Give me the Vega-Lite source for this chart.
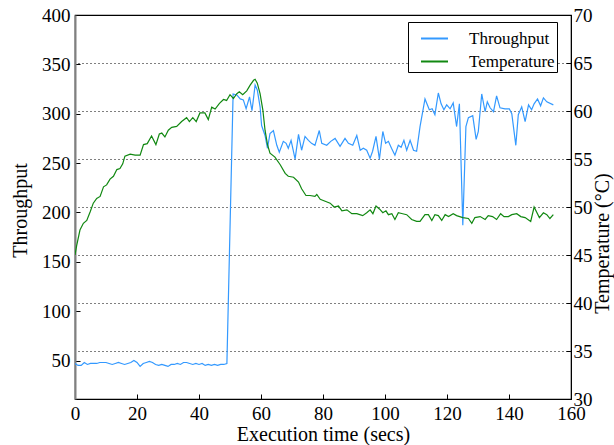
{
  "$schema": "https://vega.github.io/schema/vega-lite/v6.json",
  "width": 496,
  "height": 384,
  "autosize": {"type": "none"},
  "padding": {"left": 75, "top": 15, "right": 43, "bottom": 46},
  "background": "white",
  "config": {
    "view": {"stroke": "black", "strokeWidth": 1.2},
    "font": "Liberation Serif",
    "axis": {
      "labelFont": "Liberation Serif",
      "titleFont": "Liberation Serif",
      "labelFontSize": 19,
      "titleFontSize": 20,
      "titleFontWeight": "normal",
      "labelColor": "black",
      "titleColor": "black",
      "tickColor": "black",
      "domainColor": "black",
      "tickSize": -5,
      "labelPadding": 10,
      "grid": false,
      "labelFlush": false,
      "labelOverlap": false
    },
    "legend": {
      "labelFont": "Liberation Serif",
      "labelFontSize": 17,
      "labelColor": "black"
    }
  },
  "datasets": {
    "throughput": [
      {"t": 0, "v": 47}, {"t": 1, "v": 45}, {"t": 2, "v": 45}, {"t": 3, "v": 48}, {"t": 4, "v": 46},
      {"t": 5, "v": 47}, {"t": 6, "v": 47}, {"t": 7, "v": 47}, {"t": 8, "v": 48}, {"t": 9, "v": 48},
      {"t": 10, "v": 48}, {"t": 11, "v": 47}, {"t": 12, "v": 46}, {"t": 13, "v": 47}, {"t": 14, "v": 48},
      {"t": 15, "v": 47}, {"t": 16, "v": 46}, {"t": 17, "v": 47}, {"t": 18, "v": 48}, {"t": 19, "v": 50},
      {"t": 20, "v": 48}, {"t": 21, "v": 44}, {"t": 22, "v": 47}, {"t": 23, "v": 48}, {"t": 24, "v": 49},
      {"t": 25, "v": 48}, {"t": 26, "v": 46}, {"t": 27, "v": 45}, {"t": 28, "v": 46}, {"t": 29, "v": 45},
      {"t": 30, "v": 44}, {"t": 31, "v": 46}, {"t": 32, "v": 46}, {"t": 33, "v": 47}, {"t": 34, "v": 46},
      {"t": 35, "v": 48}, {"t": 36, "v": 48}, {"t": 37, "v": 47}, {"t": 38, "v": 46}, {"t": 39, "v": 47},
      {"t": 40, "v": 46}, {"t": 41, "v": 47}, {"t": 42, "v": 45}, {"t": 43, "v": 46}, {"t": 44, "v": 45},
      {"t": 45, "v": 46}, {"t": 46, "v": 45}, {"t": 47, "v": 46}, {"t": 48, "v": 46}, {"t": 49, "v": 47},
      {"t": 51, "v": 320}, {"t": 52.2, "v": 319}, {"t": 53.3, "v": 315}, {"t": 54.3, "v": 314}, {"t": 55.2, "v": 305},
      {"t": 56.3, "v": 317}, {"t": 57.1, "v": 303}, {"t": 58.1, "v": 329}, {"t": 58.8, "v": 324}, {"t": 59.7, "v": 307},
      {"t": 60.2, "v": 288}, {"t": 61.3, "v": 278}, {"t": 62.1, "v": 265}, {"t": 62.9, "v": 280}, {"t": 64, "v": 283},
      {"t": 65.1, "v": 268}, {"t": 65.9, "v": 261}, {"t": 67.2, "v": 272}, {"t": 68.1, "v": 270}, {"t": 68.8, "v": 265},
      {"t": 69.7, "v": 273}, {"t": 71, "v": 254}, {"t": 72.1, "v": 279}, {"t": 73.1, "v": 263}, {"t": 74.2, "v": 277},
      {"t": 75.3, "v": 273}, {"t": 76.3, "v": 270}, {"t": 77.4, "v": 268}, {"t": 78.8, "v": 283}, {"t": 79.6, "v": 270},
      {"t": 81.2, "v": 268}, {"t": 82.5, "v": 272}, {"t": 83.9, "v": 275}, {"t": 85.5, "v": 267}, {"t": 87.1, "v": 275},
      {"t": 88.2, "v": 270}, {"t": 89.6, "v": 268}, {"t": 90.9, "v": 278}, {"t": 92, "v": 263}, {"t": 93, "v": 265},
      {"t": 94.1, "v": 263}, {"t": 95.2, "v": 255}, {"t": 96, "v": 262}, {"t": 97.1, "v": 277}, {"t": 98.2, "v": 254},
      {"t": 99.3, "v": 282}, {"t": 100.2, "v": 270}, {"t": 101.1, "v": 272}, {"t": 102.1, "v": 265}, {"t": 103.2, "v": 258},
      {"t": 104.3, "v": 268}, {"t": 105.2, "v": 266}, {"t": 106.1, "v": 273}, {"t": 107, "v": 263}, {"t": 108.1, "v": 273},
      {"t": 109.2, "v": 263}, {"t": 110.2, "v": 262}, {"t": 111.3, "v": 287}, {"t": 112.9, "v": 315}, {"t": 114.3, "v": 304},
      {"t": 115.2, "v": 305}, {"t": 116.1, "v": 299}, {"t": 117.2, "v": 321}, {"t": 118.1, "v": 310}, {"t": 119, "v": 304},
      {"t": 119.9, "v": 309}, {"t": 121, "v": 305}, {"t": 122, "v": 311}, {"t": 123.1, "v": 287}, {"t": 124, "v": 310},
      {"t": 125.1, "v": 187}, {"t": 126.1, "v": 287}, {"t": 126.9, "v": 296}, {"t": 128.3, "v": 298}, {"t": 129.4, "v": 274},
      {"t": 130.1, "v": 282}, {"t": 131.2, "v": 320}, {"t": 132.3, "v": 302}, {"t": 133, "v": 312}, {"t": 133.9, "v": 306},
      {"t": 135, "v": 302}, {"t": 136, "v": 318}, {"t": 137.1, "v": 306}, {"t": 138.7, "v": 305}, {"t": 140.1, "v": 305},
      {"t": 140.9, "v": 300}, {"t": 142.2, "v": 268}, {"t": 143, "v": 299}, {"t": 144.1, "v": 307}, {"t": 145.2, "v": 292},
      {"t": 146.3, "v": 309}, {"t": 147.3, "v": 304}, {"t": 148.1, "v": 310}, {"t": 149.2, "v": 315}, {"t": 150.2, "v": 308},
      {"t": 151.1, "v": 316}, {"t": 152.2, "v": 312}, {"t": 154.3, "v": 309}
    ],
    "temperature": [
      {"t": 0, "v": 45}, {"t": 0.55, "v": 46}, {"t": 1.6, "v": 47.6}, {"t": 2.7, "v": 48.3}, {"t": 3.8, "v": 48.6},
      {"t": 4.9, "v": 49.5}, {"t": 5.9, "v": 50.4}, {"t": 7, "v": 50.9}, {"t": 8.1, "v": 51.1}, {"t": 9.2, "v": 52.1},
      {"t": 10.2, "v": 52.3}, {"t": 11.3, "v": 52.9}, {"t": 12.4, "v": 53.2}, {"t": 13.5, "v": 53.9}, {"t": 14.5, "v": 54},
      {"t": 15.4, "v": 54.5}, {"t": 16.1, "v": 55.3}, {"t": 17.8, "v": 55.5}, {"t": 19.4, "v": 55.4}, {"t": 21, "v": 55.4},
      {"t": 22.1, "v": 56.5}, {"t": 23.3, "v": 56.6}, {"t": 24.7, "v": 57.4}, {"t": 26.1, "v": 56.5}, {"t": 27.2, "v": 57.6},
      {"t": 28, "v": 57.7}, {"t": 29, "v": 57.3}, {"t": 30.1, "v": 58}, {"t": 31.2, "v": 58.3}, {"t": 32.8, "v": 58.4},
      {"t": 34.4, "v": 58.9}, {"t": 36, "v": 59.3}, {"t": 36.9, "v": 58.9}, {"t": 38, "v": 59.3}, {"t": 39.1, "v": 58.9},
      {"t": 40.3, "v": 59.8}, {"t": 41.9, "v": 59.8}, {"t": 43, "v": 59.1}, {"t": 44.1, "v": 60.4}, {"t": 45.2, "v": 60.2},
      {"t": 46.6, "v": 60.8}, {"t": 47.9, "v": 61.2}, {"t": 48.9, "v": 61.1}, {"t": 50, "v": 61.7}, {"t": 51.1, "v": 61.3},
      {"t": 52.2, "v": 61.8}, {"t": 53, "v": 62}, {"t": 54.1, "v": 61.7}, {"t": 55.4, "v": 62.1}, {"t": 56.5, "v": 62.7},
      {"t": 57.6, "v": 63.2}, {"t": 58.1, "v": 63.3}, {"t": 58.8, "v": 62.9}, {"t": 59.7, "v": 61.8}, {"t": 60.6, "v": 60.1},
      {"t": 61.3, "v": 58}, {"t": 62.1, "v": 56.5}, {"t": 62.9, "v": 55.6}, {"t": 64.5, "v": 55.2}, {"t": 66.2, "v": 54.4},
      {"t": 67.8, "v": 53.5}, {"t": 68.8, "v": 53.2}, {"t": 70.5, "v": 53.1}, {"t": 72.1, "v": 52.6}, {"t": 73.1, "v": 51.9},
      {"t": 74.5, "v": 51.2}, {"t": 75.8, "v": 51.2}, {"t": 77.4, "v": 51.1}, {"t": 78, "v": 51.3}, {"t": 79.1, "v": 50.8},
      {"t": 80.7, "v": 50.6}, {"t": 82.3, "v": 50.4}, {"t": 83.6, "v": 50.0}, {"t": 85, "v": 50.1}, {"t": 86.1, "v": 49.6},
      {"t": 87.7, "v": 49.7}, {"t": 89.3, "v": 49.3}, {"t": 90.9, "v": 49.3}, {"t": 92.8, "v": 49.1}, {"t": 94.1, "v": 49.4},
      {"t": 95.2, "v": 49.7}, {"t": 96.1, "v": 49.3}, {"t": 97.1, "v": 50.1}, {"t": 98.2, "v": 49.8}, {"t": 99.3, "v": 49.4},
      {"t": 100.3, "v": 49.6}, {"t": 101.1, "v": 49.2}, {"t": 102.2, "v": 49.3}, {"t": 103.2, "v": 48.7}, {"t": 104.3, "v": 49.4},
      {"t": 105.7, "v": 49.3}, {"t": 107, "v": 49.2}, {"t": 108.6, "v": 48.7}, {"t": 110.2, "v": 48.5}, {"t": 111.3, "v": 48.5},
      {"t": 112.9, "v": 49.2}, {"t": 114, "v": 49.2}, {"t": 115.1, "v": 48.6}, {"t": 116.1, "v": 49.2}, {"t": 117.2, "v": 49.1},
      {"t": 118.3, "v": 48.6}, {"t": 119.4, "v": 49.2}, {"t": 120.5, "v": 49.0}, {"t": 122, "v": 49.3}, {"t": 123.1, "v": 49.1},
      {"t": 125.1, "v": 48.9}, {"t": 126.9, "v": 48.8}, {"t": 128, "v": 48.3}, {"t": 129, "v": 48.9}, {"t": 130.7, "v": 49},
      {"t": 132.3, "v": 48.7}, {"t": 133.3, "v": 49.1}, {"t": 134.7, "v": 49.0}, {"t": 136, "v": 48.7}, {"t": 137.3, "v": 49.3},
      {"t": 138.4, "v": 49.0}, {"t": 139.8, "v": 49}, {"t": 140.9, "v": 49.2}, {"t": 142.5, "v": 49.3}, {"t": 143.8, "v": 49.0},
      {"t": 145.2, "v": 48.9}, {"t": 147, "v": 48.5}, {"t": 148.1, "v": 50}, {"t": 149.8, "v": 48.9}, {"t": 151.1, "v": 49.4},
      {"t": 152.2, "v": 49.2}, {"t": 153.2, "v": 48.8}, {"t": 154.3, "v": 49.2}
    ]
  },
  "resolve": {"scale": {"y": "independent"}},
  "layer": [
    {
      "data": {"name": "throughput"},
      "mark": {"type": "line", "strokeWidth": 1.2, "clip": true},
      "encoding": {
        "x": {
          "field": "t", "type": "quantitative",
          "scale": {"domain": [0, 160], "nice": false, "zero": false},
          "axis": {
            "values": [0, 20, 40, 60, 80, 100, 120, 140, 160],
            "title": "Execution time (secs)",
            "titleY": 35, "titleBaseline": "middle"
          }
        },
        "y": {
          "field": "v", "type": "quantitative",
          "scale": {"domain": [11, 400], "nice": false, "zero": false},
          "axis": {
            "orient": "left",
            "values": [50, 100, 150, 200, 250, 300, 350, 400],
            "title": "Throughput",
            "titleX": -55, "titleY": 195, "titleAngle": 270,
            "titleAlign": "center", "titleBaseline": "middle",
            "domainColor": "#808080", "domainWidth": 2
          }
        },
        "color": {
          "datum": "Throughput",
          "scale": {"domain": ["Throughput", "Temperature"], "range": ["#3399ff", "#118811"]},
          "legend": {
            "title": null,
            "orient": "none",
            "legendX": 333,
            "legendY": 7,
            "symbolType": "stroke",
            "symbolSize": 729,
            "symbolStrokeWidth": 2,
            "symbolOffset": 10,
            "labelOffset": 20,
            "padding": 2,
            "rowPadding": -2,
            "strokeColor": "black",
            "fillColor": "white"
          }
        }
      }
    },
    {
      "data": {"name": "temperature"},
      "mark": {"type": "line", "strokeWidth": 1.2, "clip": true},
      "encoding": {
        "x": {"field": "t", "type": "quantitative"},
        "y": {
          "field": "v", "type": "quantitative",
          "scale": {"domain": [30, 70], "nice": false, "zero": false},
          "axis": {
            "orient": "right",
            "values": [30, 35, 40, 45, 50, 55, 60, 65, 70],
            "title": "Temperature (°C)",
            "titleX": 31, "titleY": 228, "titleAngle": 270,
            "titleAlign": "center", "titleBaseline": "middle",
            "labelPadding": 7,
            "grid": true, "gridColor": "black", "gridDash": [1, 3], "gridWidth": 1, "gridOpacity": 1
          }
        },
        "color": {"datum": "Temperature"}
      }
    }
  ]
}
